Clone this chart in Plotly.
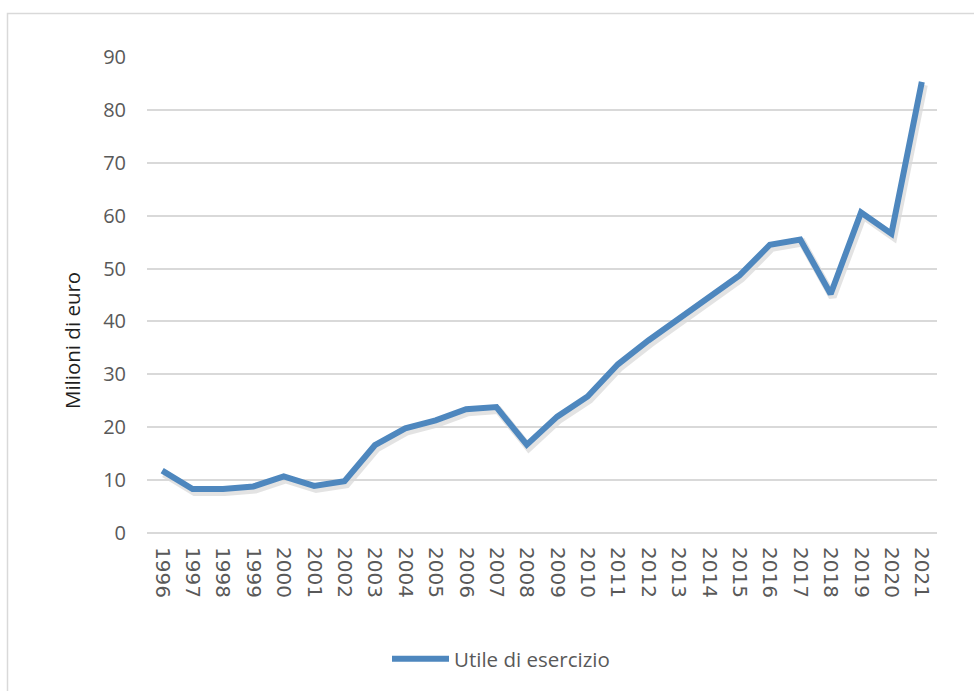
import plotly.graph_objects as go

# Utile di esercizio (milioni di euro), 1996-2021
years = [str(y) for y in range(1996, 2022)]
utile = [11.8, 8.3, 8.3, 8.8, 10.7, 8.9, 9.8, 16.6, 19.8, 21.3, 23.4, 23.8,
         16.7, 22.0, 25.8, 31.9, 36.4, 40.6, 44.7, 48.7, 54.5, 55.5, 45.2,
         60.6, 56.6, 85.3]
y_ticks = [0, 10, 20, 30, 40, 50, 60, 70, 80, 90]

LINE_BLUE = "#4E87BE"
GRID = "#D9D9D9"
TEXT = "#595959"

W, H = 974, 691
L, R, T, B = 147, 35, 57, 155
pw, ph = W - L - R, H - T - B
dx, dy = 2, 3  # shadow offset in px


def px_x(p):
    return (p - L) / pw


def px_y(p):
    return (H - B - p) / ph


fig = go.Figure()

# soft drop shadow under the line (own hidden axes, shifted a few px)
fig.add_trace(go.Scatter(
    x=years, y=utile, mode="lines", xaxis="x", yaxis="y",
    line=dict(color="rgba(0,0,0,0.11)", width=8),
    hoverinfo="skip", showlegend=False,
))
fig.add_trace(go.Scatter(
    x=years, y=utile, mode="lines", xaxis="x2", yaxis="y2",
    name="Utile di esercizio",
    line=dict(color=LINE_BLUE, width=6),
))

fig.update_layout(
    width=W, height=H,
    margin=dict(l=L, r=R, t=T, b=B),
    paper_bgcolor="white", plot_bgcolor="rgba(0,0,0,0)",
    xaxis=dict(domain=[dx / pw, 1], type="category", range=[-0.5, 25.5],
               visible=False, showgrid=False),
    yaxis=dict(domain=[0, 1 - dy / ph], range=[0, 90], visible=False,
               showgrid=False),
    xaxis2=dict(domain=[0, 1 - dx / pw], anchor="y2", type="category",
                range=[-0.5, 25.5], tickangle=90, showgrid=False,
                showline=False, ticks="", ticklabelstandoff=13,
                tickfont=dict(family="DejaVu Sans", size=20, color=TEXT)),
    yaxis2=dict(domain=[dy / ph, 1], anchor="x2", range=[0, 90],
                tickvals=y_ticks, showgrid=True, gridcolor=GRID, gridwidth=1.5,
                zeroline=True, zerolinecolor=GRID, zerolinewidth=1.5,
                showline=False, ticks="", ticklabelstandoff=20,
                tickfont=dict(family="Open Sans", size=20, color=TEXT)),
    annotations=[dict(text="Milioni di euro", textangle=-90,
                      xref="paper", yref="paper", x=px_x(72), y=px_y(341),
                      xanchor="center", yanchor="middle", showarrow=False,
                      font=dict(family="Open Sans", size=20.5,
                                color="#1F1F1F"))],
    showlegend=True,
    legend=dict(orientation="h", x=px_x(501), xanchor="center",
                y=px_y(659), yanchor="middle",
                font=dict(family="Open Sans", size=20.5, color=TEXT),
                itemwidth=57, bgcolor="rgba(0,0,0,0)"),
    shapes=[dict(type="rect", xref="paper", yref="paper", layer="below",
                 x0=px_x(7.5), x1=px_x(990),
                 y0=px_y(710), y1=px_y(13.5),
                 line=dict(color=GRID, width=1.5), fillcolor="white")],
)

fig.write_html("out.html")
